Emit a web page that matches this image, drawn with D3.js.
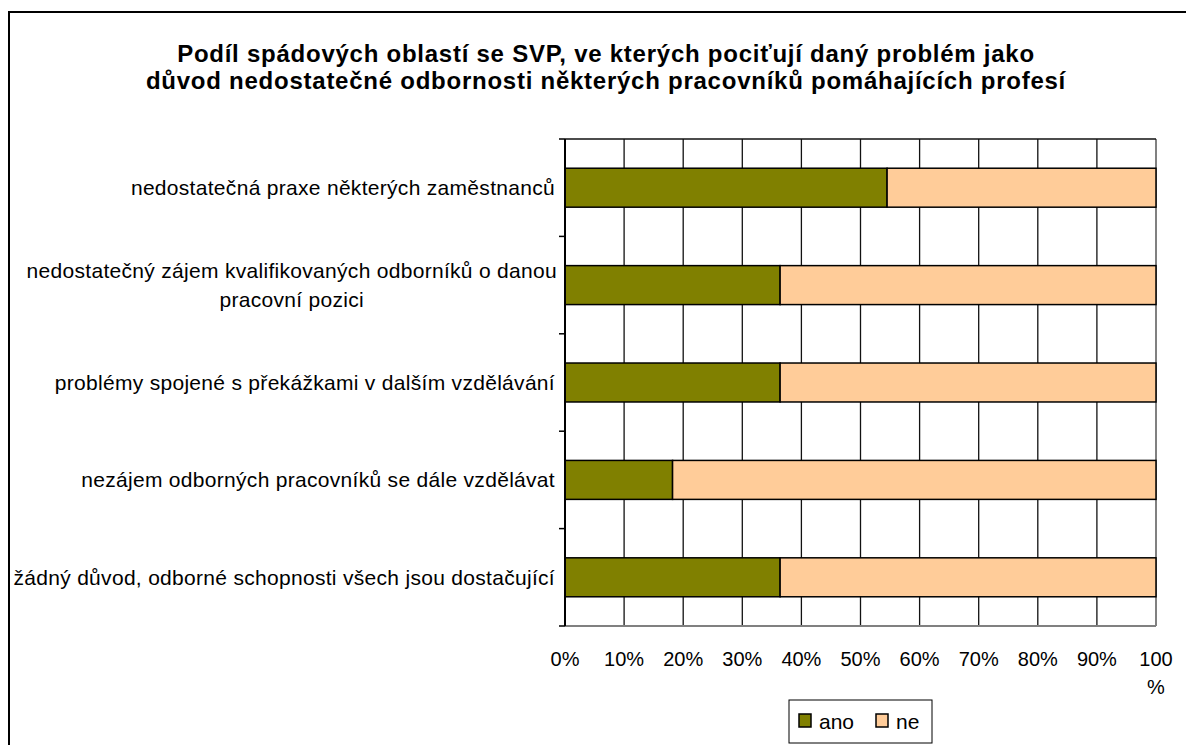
<!DOCTYPE html>
<html>
<head>
<meta charset="utf-8">
<script src="https://cdn.jsdelivr.net/npm/d3@7"></script>
<style>
  body { margin: 0; background: #fff; }
  text { font-family: "Liberation Sans", Arial, sans-serif; fill: #000; }
</style>
</head>
<body>
<div id="main"></div>
<script>
var titleLines = [
  "Podíl spádových oblastí se SVP, ve kterých pociťují daný problém jako",
  "důvod nedostatečné odbornosti některých pracovníků pomáhajících profesí"
];
var categories = [
  "nedostatečná praxe některých zaměstnanců",
  "nedostatečný zájem kvalifikovaných odborníků o danou\npracovní pozici",
  "problémy spojené s překážkami v dalším vzdělávání ",
  "nezájem odborných pracovníků se dále vzdělávat",
  "žádný důvod, odborné schopnosti všech jsou dostačující"
];
var ano = [54.5, 36.4, 36.4, 18.2, 36.4];
var ne = [45.5, 63.6, 63.6, 81.8, 63.6];
var seriesNames = ["ano", "ne"];
var seriesColors = ["#808000", "#FFCC99"];
var tickValues = [0, 10, 20, 30, 40, 50, 60, 70, 80, 90, 100];

var W = 1186, H = 745;
var margin = { top: 139, left: 565, right: 30, bottom: 119 };
var w = W - margin.left - margin.right,
    h = H - margin.top - margin.bottom;

var svg = d3.select("#main").append("svg")
  .attr("width", W)
  .attr("height", H);

// outer chart border
svg.append("rect")
  .attr("x", 9).attr("y", 12)
  .attr("width", 1200).attr("height", 800)
  .attr("fill", "none")
  .attr("stroke", "#000")
  .attr("stroke-width", 2);

// title
svg.append("g").selectAll("text")
  .data(titleLines)
  .enter().append("text")
  .attr("x", 606)
  .attr("y", function(d, i) { return 62 + i * 27; })
  .attr("text-anchor", "middle")
  .style("font-size", "24px")
  .style("font-weight", "bold")
  .style("letter-spacing", "0.75px")
  .text(function(d) { return d; });

var x = d3.scaleLinear().domain([0, 100]).range([0, w]);
var y = d3.scaleBand().domain(d3.range(categories.length)).range([0, h]).paddingInner(0.6).paddingOuter(0.3);

var g = svg.append("g")
  .attr("transform", "translate(" + margin.left + "," + margin.top + ")");

// gridlines
g.append("g").selectAll("line")
  .data(tickValues)
  .enter().append("line")
  .attr("x1", function(d) { return x(d); })
  .attr("x2", function(d) { return x(d); })
  .attr("y1", 0).attr("y2", h)
  .attr("stroke", function(d) { return d == 100 ? "#808080" : "#111"; })
  .attr("stroke-width", function(d) { return d == 100 ? 2 : 1.3; });

// top and bottom lines
g.append("line").attr("x1", 0).attr("x2", w).attr("y1", 0).attr("y2", 0)
  .attr("stroke", "#111").attr("stroke-width", 1.5);
g.append("line").attr("x1", 0).attr("x2", w).attr("y1", h).attr("y2", h)
  .attr("stroke", "#808080").attr("stroke-width", 2);

// stacked bars
var stackData = categories.map(function(c, i) { return [ano[i], ne[i]]; });
stackData.forEach(function(vals, i) {
  var x0 = 0;
  vals.forEach(function(v, s) {
    g.append("rect")
      .attr("x", x(x0))
      .attr("y", y(i))
      .attr("width", x(x0 + v) - x(x0))
      .attr("height", y.bandwidth())
      .attr("fill", seriesColors[s])
      .attr("stroke", "#000")
      .attr("stroke-width", 1.5);
    x0 += v;
  });
});

// category axis line and ticks
g.append("line").attr("x1", 0).attr("x2", 0).attr("y1", 0).attr("y2", h)
  .attr("stroke", "#000").attr("stroke-width", 2);
var step = h / categories.length;
g.append("g").selectAll("line")
  .data(d3.range(categories.length + 1))
  .enter().append("line")
  .attr("x1", -6).attr("x2", 0)
  .attr("y1", function(d) { return d * step; })
  .attr("y2", function(d) { return d * step; })
  .attr("stroke", "#000").attr("stroke-width", 1.5);

// category labels
var labelRight = -10;
categories.forEach(function(c, i) {
  var lines = c.split("\n");
  var cy = y(i) + y.bandwidth() / 2;
  var t = g.append("text")
    .style("font-size", "21px")
    .style("letter-spacing", "0.3px")
    .attr("text-anchor", lines.length > 1 ? "middle" : "end");
  lines.forEach(function(l, k) {
    t.append("tspan")
      .attr("y", cy + 7.5 + (k - (lines.length - 1) / 2) * 29)
      .text(l);
  });
  if (lines.length > 1) {
    var maxW = 0;
    t.selectAll("tspan").each(function() { maxW = Math.max(maxW, this.getComputedTextLength()); });
    t.selectAll("tspan").attr("x", labelRight + 2 - maxW / 2);
  } else {
    t.selectAll("tspan").attr("x", labelRight);
  }
});

// value tick labels
g.append("g").selectAll("text")
  .data(tickValues)
  .enter().append("text")
  .attr("x", function(d) { return x(d); })
  .attr("y", h + 40)
  .attr("text-anchor", "middle")
  .style("font-size", "20px")
  .each(function(d) {
    var t = d3.select(this);
    if (d == 100) {
      t.append("tspan").attr("x", x(d)).text("100");
      t.append("tspan").attr("x", x(d)).attr("dy", 28).text("%");
    } else {
      t.text(d + "%");
    }
  });

// legend
var legend = svg.append("g").attr("transform", "translate(789,700)");
legend.append("rect")
  .attr("width", 143).attr("height", 43)
  .attr("fill", "#fff").attr("stroke", "#000").attr("stroke-width", 1);
var legendX = [10, 87];
seriesNames.forEach(function(n, i) {
  legend.append("rect")
    .attr("x", legendX[i]).attr("y", 14)
    .attr("width", 12).attr("height", 13)
    .attr("fill", seriesColors[i])
    .attr("stroke", "#000").attr("stroke-width", 1.5);
  legend.append("text")
    .attr("x", legendX[i] + 20).attr("y", 29)
    .style("font-size", "21px")
    .text(n);
});
</script>
</body>
</html>
